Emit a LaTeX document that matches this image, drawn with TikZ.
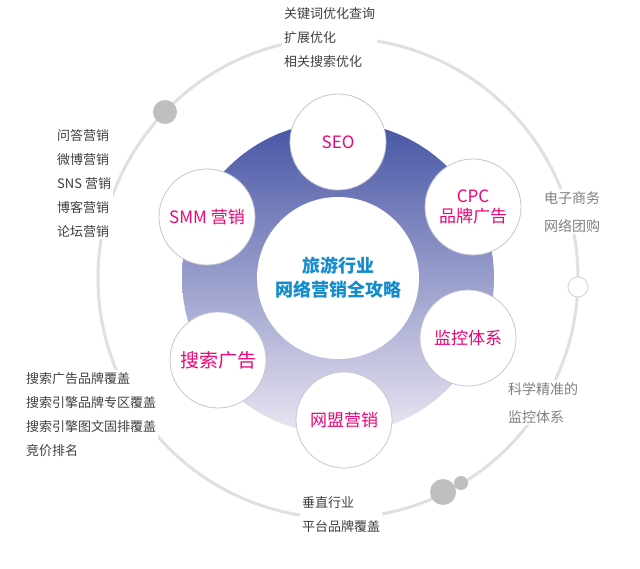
\documentclass[tikz,border=0pt]{standalone}
\usepackage{fontspec}
\setmainfont{Noto Sans CJK SC}
\begin{document}
\begin{tikzpicture}[x=1pt,y=-1pt,
  sat/.style={circle,draw=blue!15!gray!40,line width=0.8pt,fill=white,minimum size=96pt,inner sep=0pt,align=center,text=magenta!80!red,font=\fontsize{17}{20}\selectfont},
  note/.style={fill=white,inner sep=2pt,align=left,text=black!75,font=\fontsize{13}{24}\selectfont},
  gnote/.style={fill=white,inner sep=2pt,align=left,text=black!50,font=\fontsize{14}{28}\selectfont}]
\useasboundingbox (0,0) rectangle (640,569);
\fill[white] (0,0) rectangle (640,569);
\draw[black!12,line width=3pt] (338,278) circle (240);
\shade[top color={rgb,255:red,70;green,85;blue,165},bottom color={rgb,255:red,235;green,230;blue,242}] (338,278) circle (156);
\node[circle,fill=white,minimum size=162pt,inner sep=0pt,align=center,text={rgb,255:red,20;green,140;blue,205},font=\bfseries\fontsize{18}{24}\selectfont] (c) at (338,278) {旅游行业\\网络营销全攻略};
\node[sat] (seo) at (338,142) {SEO};
\node[sat] (cpc) at (473,207) {CPC\\品牌广告};
\node[sat] (smm) at (207,217) {SMM 营销};
\node[sat] (jk) at (468,338) {监控体系};
\node[sat,font=\fontsize{19}{22}\selectfont] (ss) at (218,360) {搜索广告};
\node[sat] (wm) at (344,420) {网盟营销};
\fill[black!25] (165,112) circle (12);
\fill[black!25] (443,492) circle (13);
\fill[black!25] (461,483) circle (7);
\draw[black!15,line width=1pt,fill=white] (578,287) circle (10);
\node[note,anchor=north west] (t1) at (282,5) {关键词优化查询\\扩展优化\\相关搜索优化};
\node[note,anchor=north west] (t2) at (55,127) {问答营销\\微博营销\\SNS 营销\\博客营销\\论坛营销};
\node[note,anchor=north west] (t3) at (24,370) {搜索广告品牌覆盖\\搜索引擎品牌专区覆盖\\搜索引擎图文固排覆盖\\竞价排名};
\node[note,anchor=north west] (t4) at (300,494) {垂直行业\\平台品牌覆盖};
\node[gnote,anchor=north west] (t5) at (542,189) {电子商务\\网络团购};
\node[gnote,anchor=north west] (t6) at (506,380) {科学精准的\\监控体系};
\end{tikzpicture}
\end{document}
